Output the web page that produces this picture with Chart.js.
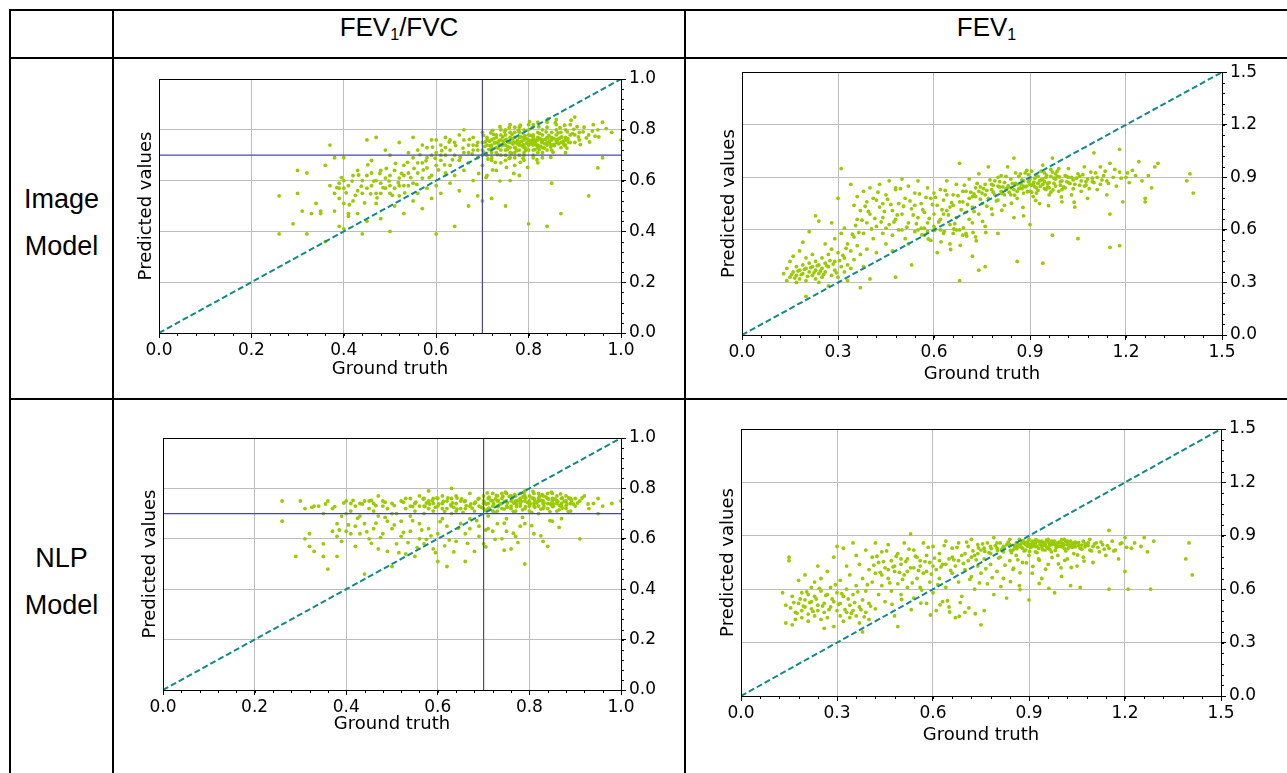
<!DOCTYPE html>
<html>
<head>
<meta charset="utf-8">
<script src="https://cdn.jsdelivr.net/npm/chart.js@4.4.1/dist/chart.umd.min.js"></script>
<style>
  body { margin: 0; background: #fff; width: 1287px; height: 773px; overflow: hidden; position: relative; font-family: "Liberation Sans", Arial, sans-serif; }
  .hl { position: absolute; height: 2px; background: #000; }
  .vl { position: absolute; width: 2px; background: #000; }
  .head { position: absolute; font-size: 26px; text-align: center; line-height: 28px; }
  .head sub { font-size: 16px; vertical-align: -4px; line-height: 0; }
  .row { position: absolute; font-size: 27px; text-align: center; line-height: 47px; }
  canvas { position: absolute; }
</style>
</head>
<body>
<div class="hl" style="left:9px; top:9px; width:1278px"></div>
<div class="hl" style="left:9px; top:57px; width:1278px"></div>
<div class="hl" style="left:9px; top:398px; width:1278px"></div>
<div class="vl" style="left:9px; top:9px; height:764px"></div>
<div class="vl" style="left:112px; top:9px; height:764px"></div>
<div class="vl" style="left:684px; top:9px; height:764px"></div>

<div class="head" style="left:114px; width:570px; top:13px">FEV<sub>1</sub>/FVC</div>
<div class="head" style="left:686px; width:601px; top:13px">FEV<sub>1</sub></div>
<div class="row" style="left:11px; width:101px; top:176px">Image<br>Model</div>
<div class="row" style="left:11px; width:101px; top:535px">NLP<br>Model</div>

<canvas id="c1" width="570" height="339" style="left:114px; top:59px"></canvas>
<canvas id="c2" width="601" height="339" style="left:686px; top:59px"></canvas>
<canvas id="c3" width="570" height="373" style="left:114px; top:400px"></canvas>
<canvas id="c4" width="601" height="373" style="left:686px; top:400px"></canvas>

<script>
// ---- data: [ground truth, predicted] ----
const imageRatioPoints = [
  [0.26,0.54],[0.26,0.39],[0.29,0.43],[0.30,0.55],[0.30,0.64],[0.31,0.48],[0.32,0.39],[0.32,0.63],[0.33,0.47],[0.34,0.51],
  [0.35,0.47],[0.35,0.48],[0.36,0.66],[0.36,0.36],[0.37,0.58],[0.37,0.74],[0.38,0.69],[0.38,0.48],[0.38,0.55],[0.39,0.53],
  [0.39,0.59],[0.39,0.42],[0.40,0.57],[0.40,0.41],[0.40,0.69],[0.40,0.51],[0.41,0.47],[0.41,0.46],[0.42,0.52],[0.43,0.47],
  [0.43,0.64],[0.44,0.39],[0.44,0.55],[0.45,0.44],[0.45,0.76],[0.45,0.62],[0.46,0.58],[0.46,0.68],[0.47,0.51],[0.47,0.60],
  [0.47,0.77],[0.48,0.55],[0.48,0.64],[0.48,0.45],[0.49,0.57],[0.49,0.72],[0.50,0.40],[0.50,0.62],[0.50,0.55],[0.50,0.70],
  [0.51,0.50],[0.51,0.57],[0.52,0.75],[0.52,0.61],[0.52,0.54],[0.53,0.66],[0.53,0.47],[0.53,0.58],[0.54,0.71],[0.54,0.63],
  [0.55,0.52],[0.55,0.77],[0.55,0.59],[0.56,0.67],[0.56,0.55],[0.56,0.72],[0.57,0.61],[0.57,0.49],[0.57,0.74],[0.58,0.65],
  [0.58,0.57],[0.58,0.69],[0.59,0.53],[0.59,0.76],[0.59,0.62],[0.60,0.71],[0.60,0.58],[0.60,0.66],[0.60,0.39],[0.61,0.74],
  [0.61,0.55],[0.61,0.68],[0.62,0.63],[0.62,0.77],[0.62,0.70],[0.63,0.59],[0.63,0.72],[0.63,0.66],[0.64,0.42],[0.64,0.75],
  [0.64,0.62],[0.65,0.68],[0.65,0.78],[0.65,0.56],[0.66,0.71],[0.66,0.64],[0.66,0.80],[0.67,0.50],[0.67,0.74],[0.67,0.67],
  [0.68,0.72],[0.68,0.60],[0.68,0.77],[0.69,0.69],[0.69,0.54],[0.69,0.75],[0.70,0.52],[0.70,0.72],[0.70,0.79],[0.70,0.66],
  [0.71,0.74],[0.71,0.70],[0.71,0.62],[0.71,0.77],[0.72,0.73],[0.72,0.68],[0.72,0.76],[0.72,0.53],[0.73,0.75],[0.73,0.71],
  [0.73,0.78],[0.73,0.64],[0.74,0.74],[0.74,0.70],[0.74,0.80],[0.74,0.67],[0.75,0.76],[0.75,0.72],[0.75,0.50],[0.75,0.78],
  [0.76,0.73],[0.76,0.69],[0.76,0.77],[0.76,0.60],[0.76,0.82],[0.77,0.75],[0.77,0.71],[0.77,0.79],[0.77,0.66],[0.78,0.74],
  [0.78,0.77],[0.78,0.70],[0.78,0.62],[0.79,0.76],[0.79,0.73],[0.79,0.80],[0.79,0.68],[0.80,0.75],[0.80,0.78],[0.80,0.43],
  [0.80,0.72],[0.81,0.77],[0.81,0.74],[0.81,0.70],[0.81,0.82],[0.82,0.76],[0.82,0.73],[0.82,0.79],[0.82,0.67],[0.83,0.75],
  [0.83,0.78],[0.83,0.71],[0.84,0.77],[0.84,0.74],[0.84,0.81],[0.84,0.42],[0.85,0.76],[0.85,0.79],[0.85,0.72],[0.85,0.59],
  [0.86,0.78],[0.86,0.75],[0.86,0.84],[0.87,0.77],[0.87,0.73],[0.87,0.47],[0.88,0.80],[0.88,0.76],[0.88,0.71],[0.89,0.78],
  [0.89,0.82],[0.90,0.75],[0.90,0.85],[0.91,0.79],[0.91,0.76],[0.92,0.81],[0.93,0.54],[0.93,0.78],[0.94,0.82],[0.95,0.80],
  [0.95,0.65],[0.96,0.69],[0.96,0.83],[0.98,0.79],[1.00,0.76],
  [0.70,0.75],[0.71,0.76],[0.72,0.74],[0.72,0.71],[0.73,0.77],[0.73,0.73],[0.74,0.76],[0.74,0.72],[0.75,0.74],[0.75,0.70],
  [0.75,0.80],[0.76,0.75],[0.76,0.71],[0.77,0.73],[0.77,0.77],[0.77,0.81],[0.78,0.75],[0.78,0.72],[0.78,0.79],[0.79,0.74],
  [0.79,0.77],[0.79,0.71],[0.80,0.76],[0.80,0.74],[0.80,0.80],[0.81,0.75],[0.81,0.72],[0.81,0.78],[0.82,0.74],[0.82,0.77],
  [0.82,0.71],[0.83,0.76],[0.83,0.73],[0.83,0.80],[0.84,0.75],[0.84,0.72],[0.85,0.77],[0.85,0.74],[0.86,0.76],[0.86,0.80],
  [0.87,0.75],[0.87,0.79],[0.88,0.74],[0.88,0.77],[0.89,0.75],[0.90,0.78],[0.74,0.78],[0.76,0.79],[0.78,0.81],[0.80,0.82],
  [0.82,0.83],[0.84,0.83],[0.86,0.82],[0.75,0.68],[0.77,0.69],[0.79,0.70],[0.81,0.69],[0.83,0.69],[0.72,0.69],[0.70,0.70],
  [0.69,0.72],[0.68,0.74],[0.67,0.71],[0.66,0.76],[0.64,0.70],[0.63,0.76],[0.62,0.73],[0.61,0.70],[0.60,0.76],[0.59,0.70],
  [0.58,0.73],[0.57,0.67],[0.56,0.63],[0.55,0.69],[0.54,0.58],[0.53,0.62],[0.52,0.58],[0.51,0.64],[0.50,0.58],[0.49,0.61],
  [0.48,0.59],[0.47,0.55],[0.46,0.63],[0.45,0.57],[0.44,0.60],[0.43,0.56],[0.42,0.62],[0.41,0.58],[0.40,0.60],[0.39,0.57],
  [0.705,0.735],[0.715,0.755],[0.725,0.765],[0.735,0.745],[0.745,0.755],[0.755,0.735],[0.765,0.765],[0.775,0.745],[0.785,0.755],[0.795,0.765],
  [0.805,0.745],[0.815,0.755],[0.825,0.765],[0.835,0.745],[0.845,0.755],[0.855,0.765],[0.865,0.745],[0.875,0.755],[0.885,0.765],[0.895,0.785],
  [0.703,0.712],[0.718,0.788],[0.733,0.702],[0.748,0.792],[0.763,0.708],[0.778,0.798],[0.793,0.718],[0.808,0.808],[0.823,0.722],[0.838,0.792],
  [0.853,0.712],[0.868,0.808],[0.883,0.728],[0.898,0.802],[0.912,0.742],[0.925,0.768],[0.938,0.795],[0.952,0.772],[0.968,0.805],[0.742,0.738],
  [0.752,0.762],[0.768,0.752],[0.772,0.728],[0.788,0.742],[0.792,0.778],[0.812,0.762],[0.818,0.738],[0.828,0.752],[0.842,0.768],[0.848,0.732],
  [0.862,0.758],[0.872,0.772],[0.878,0.738],[0.688,0.738],[0.678,0.705],[0.672,0.762],[0.658,0.728],[0.652,0.692],[0.642,0.738],[0.635,0.682],
  [0.628,0.752],[0.618,0.662],[0.612,0.718],[0.605,0.642],[0.598,0.688],[0.592,0.732],[0.585,0.612],[0.578,0.678],[0.572,0.642],[0.565,0.702],
  [0.558,0.585],[0.552,0.648],[0.545,0.612],[0.538,0.672],[0.532,0.552],[0.525,0.628],[0.518,0.592],[0.512,0.668],[0.505,0.542],[0.498,0.598],
  [0.492,0.648],[0.485,0.572],[0.478,0.628],[0.472,0.532],[0.465,0.598],[0.458,0.548],[0.452,0.662],[0.445,0.512],[0.438,0.578],[0.432,0.622],
  [0.425,0.542],[0.418,0.598],[0.412,0.505],[0.405,0.552],[0.395,0.612],[0.385,0.572],[0.692,0.628],[0.708,0.612],[0.722,0.642],[0.738,0.598],
  [0.752,0.652],[0.768,0.628],[0.782,0.672],[0.798,0.652],[0.712,0.685],[0.728,0.672],[0.758,0.688],[0.788,0.688],[0.818,0.682],[0.848,0.692],
  [0.702,0.778],[0.722,0.798],[0.738,0.812],[0.758,0.808],[0.782,0.818],[0.802,0.832],[0.822,0.812],[0.842,0.842],[0.858,0.828],[0.878,0.818],
  [0.892,0.838],[0.905,0.812],
  [0.706,0.752],[0.716,0.738],[0.726,0.748],[0.736,0.758],[0.746,0.742],[0.756,0.752],[0.766,0.744],[0.776,0.758],[0.786,0.736],[0.796,0.748],
  [0.806,0.758],[0.816,0.742],[0.826,0.736],[0.836,0.762],[0.846,0.744],[0.856,0.738],[0.866,0.766],[0.876,0.744],[0.886,0.752],[0.714,0.722],
  [0.734,0.728],[0.754,0.722],[0.774,0.718],[0.794,0.728],[0.814,0.722],[0.834,0.728],[0.854,0.742],[0.724,0.782],[0.744,0.772],[0.764,0.782],
  [0.784,0.772],[0.804,0.778],[0.824,0.785],[0.844,0.778],[0.864,0.788],[0.884,0.792],[0.908,0.772],[0.918,0.792],[0.932,0.752],[0.944,0.775]
];

const imageFev1Points = [
  [0.13,0.35],[0.14,0.31],[0.14,0.38],[0.15,0.42],[0.15,0.33],[0.16,0.36],[0.16,0.45],[0.17,0.30],[0.17,0.39],[0.17,0.34],
  [0.18,0.37],[0.18,0.48],[0.18,0.32],[0.19,0.40],[0.19,0.35],[0.19,0.53],[0.20,0.31],[0.20,0.38],[0.20,0.22],[0.20,0.44],
  [0.21,0.36],[0.21,0.59],[0.21,0.41],[0.22,0.34],[0.22,0.39],[0.22,0.46],[0.23,0.37],[0.23,0.32],[0.23,0.68],[0.23,0.42],
  [0.24,0.40],[0.24,0.35],[0.24,0.65],[0.24,0.30],[0.25,0.38],[0.25,0.44],[0.25,0.33],[0.26,0.36],[0.26,0.41],[0.26,0.52],
  [0.27,0.28],[0.27,0.39],[0.27,0.46],[0.28,0.34],[0.28,0.49],[0.28,0.64],[0.29,0.37],[0.29,0.42],[0.29,0.55],[0.30,0.33],
  [0.30,0.47],[0.30,0.78],[0.31,0.95],[0.31,0.39],[0.31,0.58],[0.32,0.36],[0.32,0.44],[0.32,0.61],[0.33,0.40],[0.33,0.52],
  [0.33,0.31],[0.34,0.48],[0.34,0.86],[0.34,0.38],[0.35,0.74],[0.35,0.56],[0.35,0.43],[0.36,0.79],[0.36,0.66],[0.36,0.51],
  [0.37,0.27],[0.37,0.46],[0.37,0.71],[0.38,0.82],[0.38,0.58],[0.38,0.39],[0.39,0.64],[0.39,0.76],[0.39,0.49],[0.40,0.32],
  [0.40,0.69],[0.40,0.84],[0.41,0.55],[0.41,0.78],[0.42,0.62],[0.42,0.47],[0.43,0.73],[0.43,0.86],[0.44,0.58],[0.44,0.67],
  [0.45,0.80],[0.45,0.52],[0.46,0.63],[0.46,0.88],[0.47,0.71],[0.47,0.57],[0.48,0.33],[0.48,0.83],[0.48,0.66],[0.49,0.75],
  [0.49,0.60],[0.50,0.89],[0.50,0.69],[0.51,0.55],[0.51,0.78],[0.52,0.64],[0.52,0.85],[0.53,0.40],[0.53,0.72],[0.54,0.59],
  [0.54,0.81],[0.55,0.67],[0.55,0.88],[0.56,0.61],[0.56,0.75],[0.57,0.57],[0.57,0.70],[0.58,0.84],[0.58,0.64],[0.59,0.78],
  [0.59,0.54],[0.60,0.69],[0.60,0.81],[0.60,0.60],[0.61,0.47],[0.61,0.74],[0.62,0.83],[0.62,0.66],[0.63,0.58],[0.63,0.77],
  [0.64,0.88],[0.64,0.71],[0.65,0.63],[0.65,0.52],[0.66,0.80],[0.66,0.74],[0.67,0.67],[0.67,0.86],[0.68,0.31],[0.68,0.98],
  [0.68,0.60],[0.69,0.76],[0.69,0.82],[0.70,0.70],[0.70,0.58],[0.71,0.89],[0.71,0.78],[0.72,0.45],[0.72,0.73],[0.72,0.64],
  [0.73,0.84],[0.73,0.79],[0.74,0.37],[0.74,0.69],[0.74,0.92],[0.75,0.81],[0.75,0.75],[0.76,0.39],[0.76,0.86],[0.76,0.62],
  [0.77,0.78],[0.77,0.96],[0.78,0.83],[0.78,0.72],[0.79,0.88],[0.79,0.80],[0.80,0.58],[0.80,0.85],[0.80,0.77],[0.81,0.91],
  [0.81,0.82],[0.82,0.87],[0.82,0.74],[0.83,0.84],[0.83,0.96],[0.84,0.80],[0.84,0.89],[0.85,0.83],[0.85,1.01],[0.85,0.67],
  [0.86,0.86],[0.86,0.42],[0.86,0.78],[0.87,0.92],[0.87,0.84],[0.88,0.88],[0.88,0.81],[0.88,0.68],[0.89,0.85],[0.89,0.94],
  [0.90,0.82],[0.90,0.89],[0.90,0.63],[0.91,0.86],[0.91,0.79],[0.92,0.91],[0.92,0.84],[0.93,0.88],[0.93,0.75],[0.94,0.41],
  [0.94,0.86],[0.94,0.97],[0.95,0.83],[0.95,0.90],[0.96,0.87],[0.96,0.80],[0.97,0.93],[0.97,0.57],[0.97,1.01],[0.98,0.85],
  [0.98,0.89],[0.99,0.82],[0.99,0.95],[1.00,0.88],[1.00,0.76],[1.01,0.91],[1.01,0.84],[1.02,0.87],[1.02,0.95],[1.03,0.80],
  [1.03,0.90],[1.04,0.86],[1.04,0.73],[1.05,0.55],[1.05,0.92],[1.06,0.88],[1.06,0.82],[1.07,0.96],[1.07,0.85],[1.08,0.89],
  [1.08,0.78],[1.09,0.93],[1.10,1.04],[1.10,0.87],[1.11,0.90],[1.11,0.83],[1.12,0.96],[1.12,0.86],[1.13,0.91],[1.14,0.80],
  [1.14,0.88],[1.15,0.50],[1.15,0.98],[1.15,0.69],[1.16,0.90],[1.17,0.85],[1.18,1.06],[1.18,0.51],[1.18,0.93],[1.19,0.76],
  [1.20,0.90],[1.21,0.87],[1.22,0.94],[1.23,0.91],[1.24,0.99],[1.25,0.88],[1.26,0.76],[1.26,0.78],[1.27,0.91],[1.28,0.84],
  [1.29,0.96],[1.30,0.98],[1.39,0.88],[1.40,0.92],[1.41,0.81],
  [0.55,0.60],[0.57,0.61],[0.58,0.59],[0.60,0.62],[0.62,0.60],[0.64,0.80],[0.66,0.58],[0.68,0.76],[0.70,0.82],[0.72,0.79],
  [0.74,0.82],[0.76,0.80],[0.78,0.86],[0.80,0.90],[0.82,0.80],[0.84,0.84],[0.86,0.82],[0.88,0.85],[0.90,0.86],[0.92,0.81],
  [0.94,0.89],[0.96,0.84],[0.98,0.92],[1.00,0.83],[1.02,0.90],[0.45,0.61],[0.47,0.48],[0.50,0.60],[0.52,0.52],[0.44,0.75],
  [0.42,0.77],[0.48,0.84],[0.54,0.74],[0.63,0.69],[0.65,0.73],[0.67,0.60],[0.69,0.57],[0.71,0.66],[0.73,0.56],
  [0.155,0.345],[0.165,0.325],[0.175,0.365],[0.185,0.345],[0.195,0.375],[0.205,0.335],[0.215,0.385],[0.225,0.355],[0.235,0.395],[0.245,0.365],
  [0.255,0.345],[0.265,0.395],[0.275,0.425],[0.285,0.405],[0.295,0.355],[0.305,0.425],[0.315,0.455],[0.325,0.495],[0.345,0.575],[0.355,0.625],
  [0.365,0.585],[0.375,0.655],[0.385,0.735],[0.395,0.705],[0.405,0.605],[0.415,0.665],[0.425,0.815],[0.435,0.645],[0.445,0.705],[0.455,0.775],
  [0.465,0.745],[0.475,0.645],[0.485,0.685],[0.495,0.835],[0.505,0.735],[0.515,0.615],[0.525,0.765],[0.535,0.685],[0.545,0.635],[0.555,0.805],
  [0.565,0.715],[0.575,0.785],[0.585,0.665],[0.595,0.745],[0.605,0.785],[0.615,0.645],[0.625,0.715],[0.635,0.825],[0.645,0.685],[0.655,0.755],
  [0.665,0.635],[0.675,0.795],[0.685,0.715],[0.695,0.855],[0.705,0.745],[0.715,0.815],[0.725,0.705],[0.735,0.865],[0.745,0.775],[0.755,0.835],
  [0.765,0.735],[0.775,0.885],[0.785,0.815],[0.795,0.765],[0.805,0.875],[0.815,0.845],[0.825,0.905],[0.835,0.815],[0.845,0.865],[0.855,0.925],
  [0.865,0.835],[0.875,0.885],[0.885,0.845],[0.895,0.915],[0.905,0.855],[0.915,0.895],[0.925,0.825],[0.935,0.935],[0.945,0.875],[0.955,0.845],
  [0.965,0.905],[0.975,0.865],[0.985,0.935],[0.995,0.875],[1.005,0.845],[1.015,0.905],[1.025,0.865],[1.035,0.835],[1.045,0.895],[1.055,0.855],
  [1.065,0.915],[1.075,0.875],[1.085,0.835],[1.095,0.895],[1.105,0.925],[1.125,0.885],[1.135,0.935],[1.145,0.865],[1.165,0.945],[1.185,0.895],
  [1.205,0.925],[0.812,0.808],[0.832,0.852],[0.852,0.798],[0.872,0.862],[0.892,0.818],[0.912,0.872],[0.932,0.848],[0.952,0.912],[0.972,0.828],
  [0.992,0.902],[0.842,0.752],[0.878,0.728],[0.918,0.768],[0.958,0.738],[0.998,0.788],[1.038,0.758],[0.602,0.598],[0.632,0.592],[0.662,0.605],
  [0.692,0.612],[0.722,0.585],[0.752,0.648],[0.782,0.688],[0.812,0.712],[0.562,0.572],[0.582,0.548],[0.622,0.532],[0.652,0.488],[0.682,0.512],
  [0.702,0.565],[0.732,0.538],[0.762,0.585],
  [0.855,0.865],[0.875,0.835],[0.895,0.875],[0.915,0.845],[0.935,0.885],[0.955,0.865],[0.975,0.895],[0.995,0.855],[1.015,0.875],[0.865,0.905],
  [0.885,0.925],[0.905,0.935],[0.925,0.905],[0.945,0.925],[0.965,0.945],[0.985,0.905],[0.905,0.815],[0.925,0.865],[0.945,0.835],[0.965,0.815],
  [0.825,0.835],[0.805,0.845],[0.785,0.855],[0.765,0.825],[0.745,0.845],[0.725,0.805],[1.035,0.885],[1.055,0.905],[1.075,0.855],[1.095,0.875]
];

const nlpRatioPoints = [
  [0.26,0.75],[0.26,0.67],[0.29,0.53],[0.30,0.75],[0.31,0.72],[0.31,0.60],[0.32,0.62],[0.32,0.57],[0.33,0.73],[0.33,0.55],
  [0.34,0.73],[0.35,0.70],[0.35,0.58],[0.35,0.53],[0.36,0.48],[0.36,0.75],[0.37,0.72],[0.37,0.63],[0.38,0.66],[0.38,0.61],
  [0.38,0.53],[0.39,0.69],[0.39,0.59],[0.40,0.63],[0.40,0.70],[0.40,0.75],[0.41,0.62],[0.41,0.74],[0.42,0.65],[0.42,0.57],
  [0.42,0.73],[0.43,0.69],[0.43,0.62],[0.44,0.75],[0.44,0.46],[0.44,0.66],[0.45,0.72],[0.45,0.60],[0.46,0.64],[0.46,0.74],
  [0.47,0.77],[0.47,0.69],[0.47,0.56],[0.48,0.73],[0.48,0.62],[0.49,0.67],[0.49,0.55],[0.50,0.74],[0.50,0.49],[0.50,0.64],
  [0.51,0.70],[0.51,0.58],[0.52,0.75],[0.52,0.61],[0.52,0.67],[0.53,0.72],[0.53,0.54],[0.54,0.76],[0.54,0.63],[0.54,0.69],
  [0.55,0.53],[0.55,0.74],[0.56,0.66],[0.56,0.60],[0.56,0.77],[0.57,0.73],[0.57,0.70],[0.57,0.58],[0.58,0.75],[0.58,0.64],
  [0.58,0.79],[0.59,0.71],[0.59,0.56],[0.59,0.76],[0.60,0.73],[0.60,0.62],[0.60,0.51],[0.61,0.77],[0.61,0.68],[0.61,0.74],
  [0.62,0.49],[0.62,0.72],[0.62,0.65],[0.63,0.76],[0.63,0.80],[0.63,0.70],[0.64,0.74],[0.64,0.59],[0.64,0.77],[0.65,0.72],
  [0.65,0.66],[0.66,0.51],[0.66,0.75],[0.66,0.62],[0.67,0.73],[0.67,0.78],[0.67,0.68],[0.68,0.74],[0.68,0.55],[0.68,0.71],
  [0.69,0.76],[0.69,0.65],[0.69,0.73],[0.70,0.75],[0.70,0.58],[0.70,0.72],[0.70,0.77],[0.71,0.74],[0.71,0.69],[0.71,0.76],
  [0.72,0.73],[0.72,0.78],[0.72,0.63],[0.73,0.75],[0.73,0.71],[0.73,0.77],[0.74,0.74],[0.74,0.60],[0.74,0.76],[0.75,0.73],
  [0.75,0.78],[0.75,0.68],[0.76,0.75],[0.76,0.72],[0.76,0.56],[0.77,0.77],[0.77,0.74],[0.77,0.71],[0.78,0.76],[0.78,0.73],
  [0.78,0.65],[0.79,0.75],[0.79,0.79],[0.79,0.50],[0.80,0.74],[0.80,0.77],[0.80,0.71],[0.81,0.76],[0.81,0.73],[0.81,0.62],
  [0.82,0.75],[0.82,0.78],[0.82,0.70],[0.83,0.74],[0.83,0.77],[0.83,0.59],[0.84,0.76],[0.84,0.72],[0.84,0.57],[0.85,0.75],
  [0.85,0.78],[0.85,0.67],[0.86,0.74],[0.86,0.77],[0.86,0.71],[0.87,0.76],[0.87,0.73],[0.87,0.68],[0.88,0.75],[0.88,0.72],
  [0.88,0.77],[0.89,0.74],[0.89,0.71],[0.90,0.76],[0.90,0.73],[0.91,0.60],[0.91,0.75],[0.92,0.77],[0.93,0.72],[0.94,0.74],
  [0.95,0.76],[0.95,0.70],[0.96,0.73],[0.98,0.74],[1.00,0.75],
  [0.70,0.74],[0.71,0.72],[0.72,0.75],[0.72,0.71],[0.73,0.73],[0.74,0.72],[0.74,0.78],[0.75,0.75],[0.76,0.73],[0.76,0.77],
  [0.77,0.75],[0.78,0.74],[0.78,0.78],[0.79,0.72],[0.79,0.77],[0.80,0.75],[0.80,0.73],[0.81,0.74],[0.81,0.78],[0.82,0.73],
  [0.82,0.76],[0.83,0.75],[0.83,0.72],[0.84,0.74],[0.84,0.78],[0.85,0.73],[0.85,0.76],[0.86,0.75],[0.87,0.74],[0.88,0.73],
  [0.89,0.76],[0.66,0.72],[0.65,0.75],[0.64,0.71],[0.63,0.73],[0.62,0.75],[0.61,0.72],[0.60,0.76],[0.59,0.74],[0.58,0.72],
  [0.57,0.76],[0.56,0.73],[0.55,0.71],[0.54,0.73],[0.53,0.76],[0.50,0.70],[0.49,0.72],[0.48,0.75],[0.46,0.71],[0.45,0.75],
  [0.43,0.74],[0.41,0.71],[0.67,0.64],[0.69,0.61],[0.71,0.64],[0.73,0.66],[0.75,0.63],[0.77,0.61],[0.79,0.66],
  [0.552,0.745],[0.568,0.758],[0.582,0.738],[0.598,0.762],[0.612,0.748],[0.628,0.735],[0.642,0.762],[0.658,0.748],[0.672,0.738],[0.688,0.758],
  [0.702,0.745],[0.712,0.765],[0.722,0.738],[0.732,0.752],[0.742,0.768],[0.752,0.742],[0.762,0.758],[0.772,0.728],[0.782,0.748],[0.792,0.762],
  [0.802,0.738],[0.812,0.752],[0.822,0.768],[0.832,0.742],[0.842,0.758],[0.852,0.728],[0.862,0.748],[0.872,0.762],[0.882,0.738],[0.892,0.752],
  [0.905,0.742],[0.915,0.762],[0.928,0.738],[0.708,0.782],[0.728,0.772],[0.748,0.785],[0.768,0.775],[0.788,0.782],[0.808,0.788],[0.828,0.775],
  [0.848,0.785],[0.868,0.778],[0.705,0.712],[0.725,0.705],[0.745,0.718],[0.765,0.708],[0.785,0.715],[0.805,0.705],[0.825,0.718],[0.845,0.708],
  [0.865,0.715],[0.885,0.708],[0.695,0.725],[0.675,0.722],[0.655,0.705],[0.635,0.725],[0.615,0.708],[0.595,0.725],[0.575,0.742],[0.545,0.728],
  [0.525,0.745],[0.505,0.732],[0.485,0.745],[0.465,0.732],[0.455,0.752],[0.435,0.738],[0.415,0.752],[0.395,0.742],[0.375,0.728],[0.355,0.738],
  [0.325,0.725],[0.505,0.655],[0.525,0.625],[0.545,0.672],[0.565,0.635],[0.585,0.612],[0.605,0.668],[0.625,0.595],[0.645,0.642],[0.665,0.582],
  [0.685,0.672],[0.705,0.635],[0.725,0.598],[0.745,0.662],[0.765,0.622],[0.785,0.685],[0.805,0.652],[0.825,0.612],[0.845,0.672],[0.865,0.645],
  [0.485,0.685],[0.465,0.662],[0.445,0.628],[0.425,0.682],[0.405,0.655],[0.385,0.635],[0.455,0.582],[0.475,0.605],[0.515,0.545],[0.535,0.585],
  [0.555,0.565],[0.575,0.598],[0.595,0.545],[0.615,0.572],[0.635,0.548],[0.705,0.568],[0.745,0.555],[0.775,0.585],
  [0.706,0.738],[0.716,0.752],[0.726,0.758],[0.736,0.738],[0.746,0.748],[0.756,0.768],[0.766,0.742],[0.776,0.752],[0.786,0.766],[0.796,0.744],
  [0.806,0.762],[0.816,0.742],[0.826,0.752],[0.836,0.766],[0.846,0.738],[0.856,0.758],[0.866,0.732],[0.876,0.748],[0.886,0.762],[0.896,0.738],
  [0.712,0.722],[0.732,0.728],[0.752,0.725],[0.772,0.738],[0.792,0.728],[0.812,0.725],[0.832,0.728],[0.852,0.738],[0.872,0.722],[0.632,0.742],
  [0.652,0.758],[0.662,0.732],[0.682,0.745],[0.622,0.762],[0.602,0.738],[0.588,0.752],[0.572,0.728],[0.642,0.718]
];

const nlpFev1Points = [
  [0.13,0.58],[0.14,0.51],[0.14,0.41],[0.15,0.78],[0.15,0.76],[0.16,0.40],[0.16,0.56],[0.17,0.47],[0.17,0.43],[0.18,0.65],
  [0.18,0.52],[0.19,0.48],[0.19,0.58],[0.19,0.44],[0.20,0.54],[0.20,0.68],[0.20,0.50],[0.21,0.46],[0.21,0.57],[0.21,0.42],
  [0.22,0.53],[0.22,0.61],[0.22,0.49],[0.23,0.56],[0.23,0.45],[0.23,0.64],[0.24,0.51],[0.24,0.73],[0.24,0.48],[0.25,0.59],
  [0.25,0.43],[0.25,0.66],[0.26,0.52],[0.26,0.38],[0.26,0.47],[0.27,0.57],[0.27,0.70],[0.27,0.44],[0.28,0.61],[0.28,0.50],
  [0.29,0.39],[0.29,0.78],[0.29,0.53],[0.30,0.84],[0.30,0.48],[0.30,0.58],[0.31,0.52],[0.31,0.45],[0.31,0.65],[0.32,0.83],
  [0.32,0.42],[0.32,0.56],[0.33,0.60],[0.33,0.47],[0.33,0.73],[0.34,0.51],[0.34,0.44],[0.34,0.68],[0.35,0.86],[0.35,0.48],
  [0.35,0.57],[0.36,0.45],[0.36,0.62],[0.36,0.79],[0.37,0.50],[0.37,0.41],[0.37,0.74],[0.38,0.36],[0.38,0.54],[0.38,0.66],
  [0.39,0.47],[0.39,0.82],[0.39,0.59],[0.40,0.43],[0.40,0.71],[0.40,0.52],[0.41,0.64],[0.41,0.78],[0.42,0.49],[0.42,0.86],
  [0.42,0.69],[0.43,0.57],[0.43,0.75],[0.44,0.62],[0.44,0.81],[0.45,0.53],[0.45,0.72],[0.46,0.66],[0.46,0.85],[0.47,0.59],
  [0.47,0.76],[0.48,0.70],[0.48,0.45],[0.49,0.39],[0.49,0.80],[0.49,0.63],[0.50,0.74],[0.50,0.57],[0.51,0.86],[0.51,0.68],
  [0.52,0.77],[0.52,0.61],[0.53,0.91],[0.53,0.72],[0.54,0.55],[0.54,0.82],[0.55,0.66],[0.55,0.78],[0.56,0.61],[0.56,0.73],
  [0.57,0.86],[0.57,0.69],[0.58,0.52],[0.58,0.79],[0.59,0.64],[0.59,0.75],[0.60,0.84],[0.60,0.58],[0.61,0.71],[0.61,0.48],
  [0.62,0.80],[0.62,0.66],[0.63,0.53],[0.63,0.74],[0.64,0.87],[0.64,0.61],[0.65,0.77],[0.65,0.50],[0.66,0.69],[0.66,0.83],
  [0.67,0.44],[0.67,0.73],[0.68,0.86],[0.68,0.64],[0.69,0.79],[0.69,0.56],[0.70,0.71],[0.70,0.47],[0.71,0.84],[0.71,0.76],
  [0.72,0.67],[0.72,0.88],[0.73,0.60],[0.73,0.79],[0.74,0.73],[0.74,0.85],[0.75,0.40],[0.75,0.82],[0.75,0.69],[0.76,0.48],
  [0.76,0.77],[0.77,0.86],[0.77,0.63],[0.78,0.80],[0.78,0.74],[0.79,0.89],[0.79,0.57],[0.80,0.83],[0.80,0.70],[0.81,0.78],
  [0.81,0.86],[0.82,0.66],[0.82,0.81],[0.83,0.55],[0.83,0.85],[0.84,0.76],[0.84,0.88],[0.85,0.82],[0.85,0.71],[0.86,0.86],
  [0.86,0.79],[0.87,0.62],[0.87,0.84],[0.88,0.87],[0.88,0.75],[0.89,0.82],[0.89,0.85],[0.90,0.54],[0.90,0.88],[0.90,0.79],
  [0.91,0.84],[0.91,0.69],[0.92,0.86],[0.92,0.81],[0.93,0.87],[0.93,0.77],[0.94,0.84],[0.94,0.66],[0.95,0.86],[0.95,0.82],
  [0.96,0.88],[0.96,0.74],[0.97,0.85],[0.97,0.81],[0.98,0.87],[0.98,0.58],[0.99,0.84],[0.99,0.79],[1.00,0.86],[1.00,0.72],
  [1.01,0.88],[1.01,0.83],[1.02,0.85],[1.02,0.77],[1.03,0.87],[1.03,0.62],[1.04,0.84],[1.04,0.80],[1.05,0.86],[1.05,0.73],
  [1.06,0.83],[1.06,0.61],[1.07,0.87],[1.07,0.78],[1.08,0.85],[1.09,0.82],[1.09,0.88],[1.10,0.84],[1.10,0.75],[1.11,0.86],
  [1.12,0.81],[1.13,0.85],[1.14,0.79],[1.15,0.93],[1.15,0.60],[1.15,0.83],[1.16,0.87],[1.17,0.82],[1.18,0.77],[1.19,0.86],
  [1.20,0.70],[1.20,0.89],[1.21,0.60],[1.22,0.83],[1.23,0.86],[1.25,0.84],[1.26,0.89],[1.27,0.81],[1.28,0.60],[1.29,0.87],
  [1.39,0.77],[1.40,0.86],[1.41,0.68],
  [0.86,0.84],[0.88,0.83],[0.90,0.85],[0.92,0.84],[0.94,0.87],[0.96,0.83],[0.98,0.85],[1.00,0.84],[1.02,0.87],[1.04,0.86],
  [0.87,0.88],[0.89,0.86],[0.91,0.87],[0.93,0.83],[0.95,0.85],[0.97,0.87],[0.99,0.86],[1.01,0.85],[1.03,0.84],[0.84,0.85],
  [0.82,0.84],[0.80,0.86],[0.78,0.84],[0.76,0.83],[0.74,0.80],[0.72,0.78],[0.70,0.80],[0.68,0.76],[0.66,0.78],[0.64,0.74],
  [0.62,0.76],[0.60,0.73],[0.58,0.70],[0.56,0.76],[0.54,0.72],[0.52,0.70],[0.50,0.77],[0.48,0.73],[0.46,0.71],[0.44,0.68],
  [0.155,0.495],[0.165,0.525],[0.175,0.465],[0.185,0.545],[0.195,0.505],[0.205,0.585],[0.215,0.525],[0.225,0.475],[0.235,0.545],[0.245,0.605],
  [0.255,0.505],[0.265,0.565],[0.275,0.485],[0.285,0.545],[0.295,0.625],[0.305,0.515],[0.315,0.575],[0.325,0.485],[0.335,0.545],[0.345,0.465],
  [0.355,0.525],[0.365,0.585],[0.375,0.485],[0.385,0.445],[0.395,0.625],[0.405,0.505],[0.415,0.735],[0.425,0.785],[0.435,0.695],[0.445,0.755],
  [0.455,0.815],[0.465,0.635],[0.475,0.725],[0.485,0.785],[0.495,0.695],[0.505,0.655],[0.515,0.755],[0.525,0.825],[0.535,0.635],[0.545,0.785],
  [0.555,0.705],[0.565,0.595],[0.575,0.755],[0.585,0.835],[0.595,0.685],[0.605,0.775],[0.615,0.625],[0.625,0.725],[0.635,0.845],[0.645,0.535],
  [0.655,0.705],[0.665,0.765],[0.675,0.835],[0.685,0.525],[0.695,0.745],[0.705,0.865],[0.715,0.655],[0.725,0.815],[0.735,0.765],[0.745,0.635],
  [0.755,0.855],[0.765,0.715],[0.775,0.805],[0.785,0.665],[0.795,0.845],[0.805,0.775],[0.815,0.825],[0.825,0.735],[0.835,0.865],[0.845,0.805],
  [0.855,0.845],[0.865,0.765],[0.875,0.855],[0.885,0.815],[0.895,0.865],[0.905,0.835],[0.915,0.855],[0.925,0.805],[0.935,0.865],[0.945,0.845],
  [0.955,0.875],[0.965,0.825],[0.975,0.855],[0.985,0.835],[0.995,0.865],[1.005,0.845],[1.015,0.815],[1.025,0.855],[1.035,0.835],[1.045,0.865],
  [1.055,0.845],[1.065,0.825],[1.075,0.855],[1.085,0.845],[1.095,0.815],[1.105,0.855],[1.115,0.835],[1.125,0.865],[1.135,0.825],[1.145,0.845],
  [1.165,0.815],[1.185,0.855],[1.205,0.835],[0.862,0.828],[0.882,0.872],[0.902,0.812],[0.922,0.878],[0.942,0.822],[0.962,0.862],[0.982,0.818],
  [1.002,0.878],[1.022,0.828],[1.042,0.848],[0.852,0.718],[0.872,0.692],[0.892,0.748],[0.912,0.728],[0.932,0.762],[0.952,0.712],[0.972,0.778],
  [0.992,0.742],[1.012,0.762],[1.032,0.722],[1.052,0.792],[1.072,0.758],[0.812,0.615],[0.842,0.642],[0.872,0.598],[0.932,0.632],[0.962,0.605],
  [1.002,0.672],[0.592,0.455],[0.622,0.512],[0.652,0.472],[0.682,0.448],[0.712,0.495],[0.732,0.462],[0.562,0.522],[0.532,0.485],[0.502,0.542],
  [0.472,0.515],
  [0.905,0.852],[0.915,0.868],[0.925,0.842],[0.935,0.852],[0.945,0.862],[0.955,0.838],[0.965,0.848],[0.975,0.868],[0.985,0.852],[0.995,0.842],
  [1.005,0.858],[1.015,0.868],[1.025,0.842],[1.035,0.852],[1.045,0.838],[1.055,0.862],[0.875,0.838],[0.885,0.858],[0.895,0.842],[0.865,0.852],
  [0.855,0.832],[1.065,0.848],[1.075,0.838],[1.085,0.862],[0.842,0.818],[0.822,0.832],[0.802,0.818],[0.782,0.828],[0.762,0.812],[0.742,0.832]
];

// axis ticks for the two kinds of panel
const ratioTicks = [0.0, 0.2, 0.4, 0.6, 0.8, 1.0];
const fev1Ticks = [0.0, 0.3, 0.6, 0.9, 1.2, 1.5];
const ratioThreshold = 0.7;   // the FEV1/FVC cut-off lines

const dotColor = '#99cc00';
const diagColor = '#11898b';
const cutColor = '#4646aa';

// frame, minor ticks and the left "Predicted values" label
const frameTicks = {
  id: 'frameTicks',
  afterDraw(chart, args, opts) {
    const { ctx, chartArea: a, scales: { x, y } } = chart;
    ctx.save();
    ctx.strokeStyle = '#000';
    ctx.lineWidth = 1;
    ctx.beginPath();
    const n = Math.round(opts.max / opts.minor);
    for (let i = 0; i <= n; i++) {
      const v = i * opts.minor;
      const px = Math.round(x.getPixelForValue(v)) + 0.5;
      ctx.moveTo(px, a.bottom);
      ctx.lineTo(px, a.bottom + 3);
      const py = Math.round(y.getPixelForValue(v)) + 0.5;
      ctx.moveTo(a.right, py);
      ctx.lineTo(a.right + 3, py);
    }
    ctx.stroke();
    ctx.strokeRect(Math.round(a.left) + 0.5, Math.round(a.top) + 0.5,
      Math.round(a.right - a.left), Math.round(a.bottom - a.top));

    ctx.fillStyle = '#000';
    ctx.font = '18px "DejaVu Sans"';
    ctx.textAlign = 'center';
    ctx.textBaseline = 'middle';
    ctx.translate(a.left - 13, (a.top + a.bottom) / 2);
    ctx.rotate(-Math.PI / 2);
    ctx.fillText('Predicted values', 0, 0);
    ctx.restore();
  }
};

function makePanel(id, points, ticks, withCut, box) {
  const max = ticks[ticks.length - 1];
  const step = ticks[1] - ticks[0];
  const datasets = [{
    data: points.map(p => ({ x: p[0], y: p[1] })),
    pointRadius: 1.9,
    pointBorderWidth: 0,
    pointBackgroundColor: dotColor,
    order: 3
  }, {
    data: [{ x: 0, y: 0 }, { x: max, y: max }],
    showLine: true,
    borderColor: diagColor,
    borderWidth: 2,
    borderDash: [6, 3],
    pointRadius: 0,
    order: 1
  }];
  if (withCut) {
    datasets.push({
      data: [{ x: 0, y: ratioThreshold }, { x: max, y: ratioThreshold }],
      showLine: true, borderColor: cutColor, borderWidth: 1.2, pointRadius: 0, order: 2
    });
    datasets.push({
      data: [{ x: ratioThreshold, y: 0 }, { x: ratioThreshold, y: max }],
      showLine: true, borderColor: cutColor, borderWidth: 1.2, pointRadius: 0, order: 2
    });
  }
  const tickFont = { family: 'DejaVu Sans', size: 17 };
  const titleFont = { family: 'DejaVu Sans', size: 18 };
  new Chart(document.getElementById(id), {
    type: 'scatter',
    data: { datasets: datasets },
    options: {
      responsive: false,
      animation: false,
      devicePixelRatio: 1,
      layout: { autoPadding: false, padding: { left: box.left, top: box.top, right: 0, bottom: 0 } },
      plugins: { legend: { display: false }, tooltip: { enabled: false }, frameTicks: { max: max, minor: step / 5 } },
      scales: {
        x: {
          type: 'linear', position: 'bottom', min: 0, max: max,
          afterBuildTicks: s => { s.ticks = ticks.map(v => ({ value: v })); },
          afterFit: s => { s.height = box.bottom; },
          grid: { color: '#bdbdbd', lineWidth: 1, tickColor: '#000', tickLength: 5 },
          border: { display: true, color: '#000', width: 1 },
          ticks: { font: tickFont, color: '#000', padding: 2, maxRotation: 0, callback: v => v.toFixed(1) },
          title: { display: true, text: 'Ground truth', font: titleFont, color: '#000', padding: { top: 0, bottom: box.titleBottom } }
        },
        y: {
          type: 'linear', position: 'right', min: 0, max: max,
          afterBuildTicks: s => { s.ticks = ticks.map(v => ({ value: v })); },
          afterFit: s => { s.width = box.right; },
          grid: { color: '#bdbdbd', lineWidth: 1, tickColor: '#000', tickLength: 5 },
          border: { display: true, color: '#000', width: 1 },
          ticks: { font: tickFont, color: '#000', padding: 3, callback: v => v.toFixed(1) }
        }
      }
    },
    plugins: [frameTicks]
  });
}

makePanel('c1', imageRatioPoints, ratioTicks, true, { left: 45, top: 20, right: 63, bottom: 65, titleBottom: 18 });
makePanel('c2', imageFev1Points, fev1Ticks, false, { left: 56, top: 13, right: 65, bottom: 63, titleBottom: 13 });
makePanel('c3', nlpRatioPoints, ratioTicks, true, { left: 49, top: 38, right: 63, bottom: 83, titleBottom: 38 });
makePanel('c4', nlpFev1Points, fev1Ticks, false, { left: 55, top: 29, right: 66, bottom: 77, titleBottom: 27 });
</script>
</body>
</html>
